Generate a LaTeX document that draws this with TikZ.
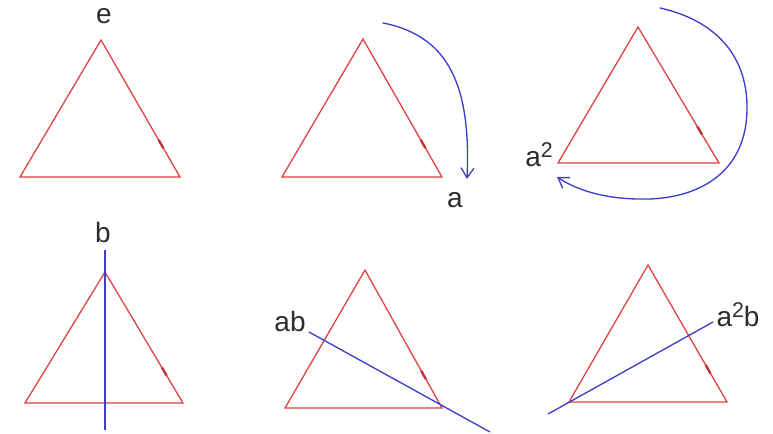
\documentclass[tikz,border=0pt]{standalone}
\usepackage{fontspec}
\setmainfont{Liberation Sans}
\usetikzlibrary{arrows.meta,calc}
\definecolor{edgered}{RGB}{226,62,62}
\definecolor{axisblue}{RGB}{62,62,205}
\definecolor{labgray}{RGB}{45,45,45}
\tikzset{
  tri/.style={edgered,line width=0.95pt,line join=miter},
  mk/.style={edgered!85!black,line width=1.8pt},
  ax/.style={axisblue,line width=1pt},
  rot/.style={axisblue,line width=1pt,line cap=round,-{Straight Barb[length=2.6mm,width=3.4mm]}},
  lab/.style={inner sep=1pt,text=labgray,font=\fontsize{21}{23}\selectfont}
}
\newcommand{\tri}[1]{\draw[tri] (#1a) -- (#1l) -- (#1r) -- cycle;
  \draw[mk] ($(#1a)!0.73!(#1r)$) -- ($(#1a)!0.79!(#1r)$);}
\newcommand{\sq}{\raisebox{0.62ex}{\fontsize{16}{16}\selectfont 2}}

\begin{document}
\begin{tikzpicture}[x=0.75pt,y=-0.75pt]
\useasboundingbox (0,0) rectangle (773,434);
% top row: rotations
\coordinate (t1a) at (101,40); \coordinate (t1l) at (20,177); \coordinate (t1r) at (180,177);
\coordinate (t2a) at (363,39); \coordinate (t2l) at (282,177); \coordinate (t2r) at (442,177);
\coordinate (t3a) at (638,27); \coordinate (t3l) at (558,163); \coordinate (t3r) at (719,163);
\tri{t1} \tri{t2} \tri{t3}
\node[lab] (e) at (104,16) {e};
\node[lab] (a) at (455,200) {a};
\node[lab] (aa) at (539,155) {a\sq};
\coordinate (r1s) at (383,23); \coordinate (r1e) at (467,179);
\draw[rot] (r1s) .. controls (450,36) and (471,88) .. (r1e);
\coordinate (r2s) at (660,8); \coordinate (r2e) at (557,177);
\draw[rot] (r2s) .. controls (722,22) and (748,62) .. (747,110)
  .. controls (746,172) and (700,197) .. (650,199)
  .. controls (610,200) and (580,192) .. (r2e);
% bottom row: reflections
\coordinate (t4a) at (105,272); \coordinate (t4l) at (25,403); \coordinate (t4r) at (183,403);
\coordinate (t5a) at (365,270); \coordinate (t5l) at (285,408); \coordinate (t5r) at (442,408);
\coordinate (t6a) at (648,265); \coordinate (t6l) at (569,402); \coordinate (t6r) at (727,402);
\tri{t4} \tri{t5} \tri{t6}
\node[lab] (b) at (103,232) {b};
\node[lab] (ab) at (290,321) {ab};
\node[lab] (aab) at (738,315) {a\sq b};
\coordinate (m4s) at (105,250); \coordinate (m4e) at (105,430);
\draw[ax] (m4s) -- (m4e);
\coordinate (m5s) at (309,332); \coordinate (m5e) at (490,432);
\draw[ax] (m5s) -- (m5e);
\coordinate (m6s) at (548,414); \coordinate (m6e) at (713,322);
\draw[ax] (m6s) -- (m6e);
\end{tikzpicture}
\end{document}
